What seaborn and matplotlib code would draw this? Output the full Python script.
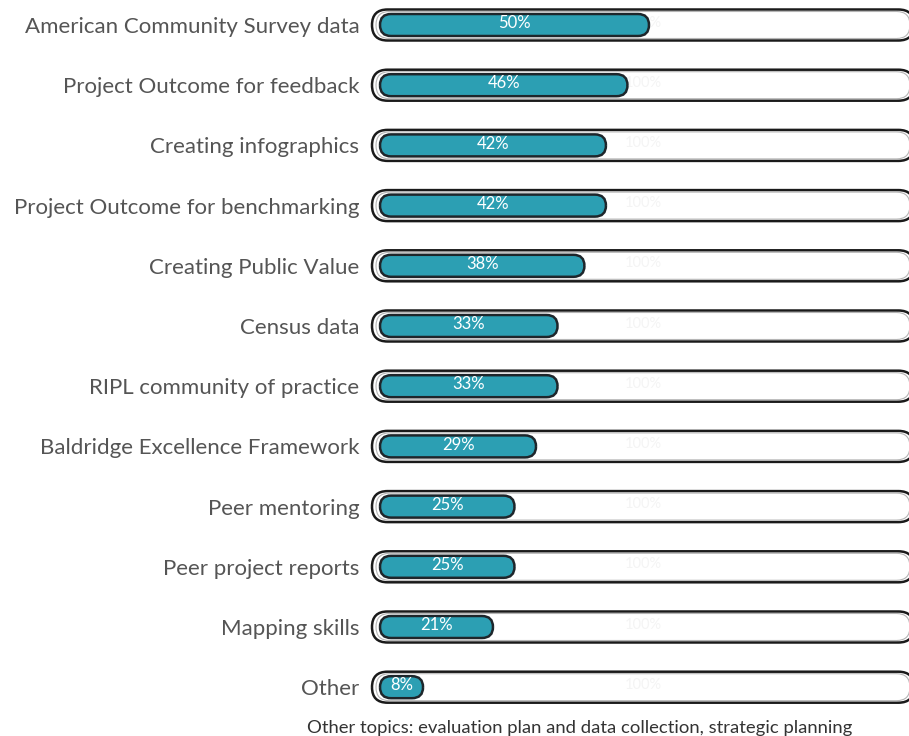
import matplotlib
matplotlib.use("Agg")
import matplotlib.pyplot as plt
from matplotlib.patches import FancyBboxPatch
import pandas as pd
import seaborn as sns

sns.set_theme(style="white")
plt.rcParams['font.family'] = ['Lato', 'DejaVu Sans']

# data (top to bottom)
topics = [
    "American Community Survey data",
    "Project Outcome for feedback",
    "Creating infographics",
    "Project Outcome for benchmarking",
    "Creating Public Value",
    "Census data",
    "RIPL community of practice",
    "Baldridge Excellence Framework",
    "Peer mentoring",
    "Peer project reports",
    "Mapping skills",
    "Other",
]
percent = [50, 46, 42, 42, 38, 33, 33, 29, 25, 25, 21, 8]
footnote = "Other topics: evaluation plan and data collection, strategic planning"

df = pd.DataFrame({"topic": topics, "pct": percent})

W, H = 909, 736
fig = plt.figure(figsize=(W / 100, H / 100), dpi=100)
# axes placed in pixel terms
ax_left, ax_right, ax_top, ax_bottom = 369, 909, 0, 710
ax = fig.add_axes([ax_left / W, 1 - ax_bottom / H,
                   (ax_right - ax_left) / W, (ax_bottom - ax_top) / H])

ppx = 5.38     # pixels per percent
ppy = 60.2     # pixels per row
x0px = 380     # pixel where 0% sits
xlim = (-(x0px - ax_left) / ppx, (ax_right - x0px) / ppx)
ylim = ((ax_bottom - 25) / ppy, -(25 - ax_top) / ppy)
aspect = ppx / ppy

teal = "#2c9fb3"
dark = "#1e262b"

bar_h = 22 / ppy
sns.barplot(data=df, x="pct", y="topic", orient="h", width=bar_h,
            color=teal, ax=ax, zorder=3)
ax.set_xlim(*xlim)
ax.set_ylim(*ylim)

# background tracks (drawn first, behind the bars), running off the right edge
trk_h = 31 / ppy
trk_x0 = -(x0px - 372) / ppx
trk_x1 = (914 - x0px) / ppx
ghost_x = (643 - x0px) / ppx
for i in range(len(topics)):
    outer = FancyBboxPatch((trk_x0, i - trk_h / 2), trk_x1 - trk_x0, trk_h,
                           boxstyle="round,pad=0,rounding_size=%f" % (15.5 / ppx),
                           mutation_aspect=aspect, facecolor="white",
                           edgecolor="#1a1a1a", lw=1.8, zorder=1)
    ax.add_patch(outer)
    ih = 27 / ppy
    inner = FancyBboxPatch((trk_x0 + 4 / ppx, i - ih / 2), trk_x1 - trk_x0 - 8 / ppx, ih,
                           boxstyle="round,pad=0,rounding_size=%f" % (13.5 / ppx),
                           mutation_aspect=aspect, facecolor="none",
                           edgecolor="#b5b5b5", lw=0.8, zorder=1.5)
    ax.add_patch(inner)
    ax.text(ghost_x, i - 0.04, "100%", color="#f4f4f4",
            fontsize=10.5, ha="center", va="center", zorder=2)

# swap seaborn's square bars for rounded pills
for p in list(ax.patches):
    if isinstance(p, FancyBboxPatch):
        continue
    x, y = p.get_x(), p.get_y()
    w, h = p.get_width(), p.get_height()
    p.remove()
    r = min(11 / ppx, w / 2)
    pill = FancyBboxPatch((x, y), w, h,
                          boxstyle="round,pad=0,rounding_size=%f" % r,
                          mutation_aspect=aspect, facecolor=teal,
                          edgecolor=dark, lw=1.8, zorder=3)
    ax.add_patch(pill)
    ax.text(x + w / 2, y + h / 2 - 0.03, "%d%%" % round(w), color="white",
            fontsize=12, ha="center", va="center", zorder=4)

ax.set_xlabel("")
ax.set_ylabel("")
ax.set_xticks([])
ax.tick_params(axis="y", length=0, pad=7, labelsize=16, labelcolor="#555555")
for s in ax.spines.values():
    s.set_visible(False)
ax.grid(False)

fig.text(580 / W, 1 - 728 / H, footnote, ha="center", va="center",
         fontsize=13.3, color="#333333")

fig.savefig("out.png", dpi=100, facecolor="white")
